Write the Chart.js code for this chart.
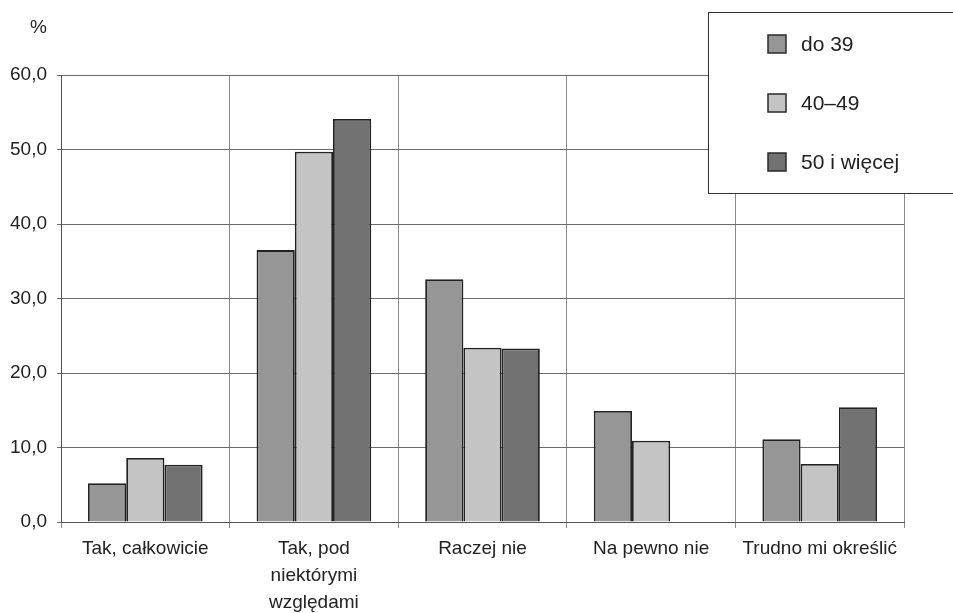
<!DOCTYPE html>
<html>
<head>
<meta charset="utf-8">
<script src="https://cdn.jsdelivr.net/npm/chart.js@4"></script>
<style>
  html, body { margin: 0; padding: 0; background: #fff; }
  #wrap { width: 953px; height: 613px; }
</style>
</head>
<body>
<div id="wrap"><canvas id="chart" width="953" height="613"></canvas></div>
<script>
const categories = [
  "Tak, całkowicie",
  ["Tak, pod", "niektórymi", "względami"],
  "Raczej nie",
  "Na pewno nie",
  "Trudno mi określić",
];
const seriesNames = ["do 39", "40–49", "50 i więcej"];
const do39 = [5.2, 36.5, 32.6, 14.9, 11.1];
const od40do49 = [8.6, 49.7, 23.4, 10.9, 7.8];
const od50 = [7.7, 54.1, 23.3, null, 15.4];
const yTicks = [0, 10, 20, 30, 40, 50, 60];

const colors = ["#969696", "#c4c4c4", "#727272"];
const FONT = "'Liberation Sans', Arial, sans-serif";

const legendBox = {
  id: "legendBox",
  afterDraw(chart) {
    const ctx = chart.ctx;
    ctx.save();
    ctx.fillStyle = "#fff";
    ctx.fillRect(708, 12, 260, 181);
    ctx.strokeStyle = "#333";
    ctx.lineWidth = 1;
    ctx.strokeRect(708.5, 12.5, 260, 181);
    ctx.font = "21px " + FONT;
    ctx.textBaseline = "middle";
    chart.data.datasets.forEach((ds, i) => {
      const y = 44 + i * 59;
      ctx.fillStyle = ds.backgroundColor;
      ctx.fillRect(768, y - 9, 18, 18);
      ctx.strokeStyle = "#2a2a2a";
      ctx.lineWidth = 1.5;
      ctx.strokeRect(768, y - 9, 18, 18);
      ctx.fillStyle = "#222";
      ctx.fillText(ds.label, 801, y + 1);
    });
    ctx.font = "19px " + FONT;
    ctx.fillText("%", 30, 28);
    ctx.restore();
  },
};

new Chart(document.getElementById("chart"), {
  type: "bar",
  data: {
    labels: categories,
    datasets: [do39, od40do49, od50].map((d, i) => ({
      label: seriesNames[i],
      data: d,
      backgroundColor: colors[i],
      borderColor: "#222",
      borderWidth: 1.8,
      categoryPercentage: 0.68,
      barPercentage: 1,
    })),
  },
  options: {
    responsive: false,
    animation: false,
    layout: { padding: { top: 75, right: 49, left: 0, bottom: 0 } },
    plugins: {
      legend: { display: false },
      title: { display: false },
      tooltip: { enabled: false },
    },
    scales: {
      x: {
        afterFit: (s) => { s.height = 91; },
        grid: { color: "#8a8a8a", lineWidth: 1, tickLength: 6, offset: true },
        border: { color: "#555", width: 1 },
        ticks: {
          color: "#222",
          font: { family: FONT, size: 19, lineHeight: 1.42 },
          padding: 7,
          maxRotation: 0,
          autoSkip: false,
        },
      },
      y: {
        min: 0,
        max: 60,
        afterFit: (s) => { s.width = 61; },
        afterBuildTicks: (s) => { s.ticks = yTicks.map((v) => ({ value: v })); },
        grid: { color: "#6a6a6a", lineWidth: 1, tickLength: 4 },
        border: { color: "#555", width: 1 },
        ticks: {
          color: "#222",
          font: { family: FONT, size: 19 },
          padding: 10,
          callback: (v) => v.toFixed(1).replace(".", ","),
        },
      },
    },
  },
  plugins: [legendBox],
});
</script>
</body>
</html>
